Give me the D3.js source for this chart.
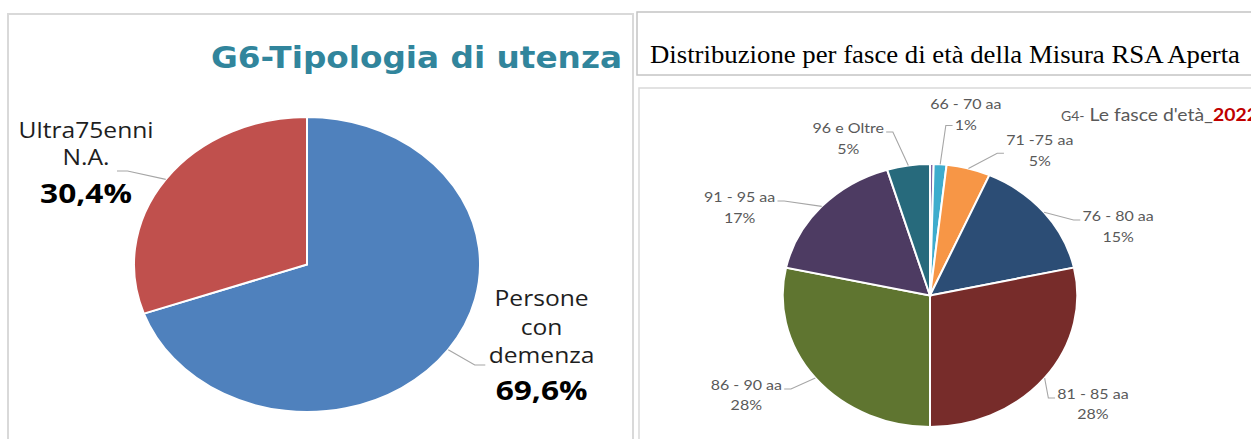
<!DOCTYPE html>
<html><head><meta charset="utf-8">
<script src="https://cdn.jsdelivr.net/npm/d3@7"></script>
<style>html,body{margin:0;padding:0;background:#fff;overflow:hidden}</style>
</head><body>
<svg id="c" width="1251" height="439"></svg>
<script>
// ---------- DATA ----------
const leftTitle = "G6-Tipologia di utenza";
const leftCategories = ["Persone con demenza", "Ultra75enni N.A."];
const leftLabelLines = [["Persone", "con", "demenza"], ["Ultra75enni", "N.A."]];
const leftValues = [69.6, 30.4];
const leftColors = ["#4f81bd", "#c0504d"];

const rightTitle = "Distribuzione per fasce di età della Misura RSA Aperta";
const innerTitle = "G4- Le fasce d'età_";
const innerYear = "2022";
const rightCategories = ["fino a 65 aa", "66 - 70 aa", "71 -75 aa", "76 - 80 aa", "81 - 85 aa", "86 - 90 aa", "91 - 95 aa", "96 e Oltre"];
const rightValues = [0.4, 1.4, 4.8, 15.0, 28.4, 28.4, 16.9, 4.7];
const rightShowLabel = [false, true, true, true, true, true, true, true];
const rightColors = ["#8064a2", "#3eaccd", "#f79646", "#2c4d75", "#772c2a", "#5f7530", "#4d3b62", "#276a7c"];

// ---------- LAYOUT ----------
const svg = d3.select("#c");
const fmtIt = v => v.toFixed(1).replace(".", ",") + "%";

// Left panel frame
svg.append("rect").attr("x", 8).attr("y", 14).attr("width", 625).attr("height", 460)
  .attr("fill", "none").attr("stroke", "#d9d9d9").attr("stroke-width", 2);
svg.append("text").attr("x", 622).attr("y", 68).attr("text-anchor", "end")
  .attr("font-family", "DejaVu Sans").attr("font-weight", "bold").attr("font-size", 31)
  .attr("fill", "#31859c").attr("textLength", 411).attr("lengthAdjust", "spacingAndGlyphs")
  .text(leftTitle);

const L = {cx: 307, cy: 264.5, r: 147.5, sx: 1.173};
const gL = svg.append("g").attr("transform", `translate(${L.cx},${L.cy}) scale(${L.sx},1)`);
const pie = d3.pie().sort(null).value(d => d);
const arcL = d3.arc().innerRadius(0).outerRadius(L.r);
const leftArcs = pie(leftValues);
gL.selectAll("path.slice").data(leftArcs).join("path").attr("class", "slice")
  .attr("d", arcL).attr("fill", (d, i) => leftColors[i])
  .attr("stroke", "#fff").attr("stroke-width", 2).attr("vector-effect", "non-scaling-stroke");

// label layout (offsets from pie centre, unscaled units)
const leftLabelLayout = [
  {x: 200, y: 42, lh: 28.3, pctGap: 37, elbow: [143, 100.5], end: [152, 100.5]},
  {x: -188.4, y: -126.5, lh: 27, pctGap: 38, elbow: [-153, -93.5], end: [-162, -93.5]}
];
leftArcs.forEach((a, i) => {
  const lay = leftLabelLayout[i];
  const mid = (a.startAngle + a.endAngle) / 2;
  const p0 = [L.r * Math.sin(mid), -L.r * Math.cos(mid)];
  gL.append("path").attr("d", d3.line()([p0, lay.elbow, lay.end]))
    .attr("fill", "none").attr("stroke", "#a6a6a6").attr("stroke-width", 1.2)
    .attr("vector-effect", "non-scaling-stroke");
  const lines = leftLabelLines[i];
  lines.forEach((t, j) => {
    gL.append("text").attr("x", lay.x).attr("y", lay.y + j * lay.lh).attr("text-anchor", "middle")
      .attr("font-family", "Open Sans").attr("font-size", 21).attr("fill", "#1e1e1e").text(t);
  });
  gL.append("text").attr("x", lay.x).attr("y", lay.y + (lines.length - 1) * lay.lh + lay.pctGap)
    .attr("text-anchor", "middle").attr("font-family", "Open Sans").attr("font-weight", "bold")
    .attr("font-size", 27).attr("fill", "#000").text(fmtIt(leftValues[i]));
});

// Right panel: title box
svg.append("rect").attr("x", 637).attr("y", 12).attr("width", 640).attr("height", 63)
  .attr("fill", "none").attr("stroke", "#c4c4c4").attr("stroke-width", 1.5);
svg.append("text").attr("x", 650).attr("y", 63)
  .attr("font-family", "Liberation Serif").attr("font-size", 25).attr("fill", "#000")
  .attr("textLength", 590).attr("lengthAdjust", "spacingAndGlyphs").text(rightTitle);

// inner chart box
svg.append("rect").attr("x", 639).attr("y", 88).attr("width", 640).attr("height", 400)
  .attr("fill", "none").attr("stroke", "#d9d9d9").attr("stroke-width", 1.5);

const R = {cx: 930, cy: 295.5, r: 131.5, sx: 1.12};
const gR = svg.append("g").attr("transform", `translate(${R.cx},${R.cy}) scale(${R.sx},1)`);

const it = svg.append("text").attr("transform", `translate(1061,121) scale(${R.sx},1)`)
  .attr("font-family", "Lato").attr("fill", "#595959").attr("font-size", 17.3);
it.append("tspan").attr("font-size", 12.5).text(innerTitle.slice(0, 3));
it.append("tspan").text(innerTitle.slice(3));
it.append("tspan").attr("font-weight", "bold").attr("fill", "#c00000").text(innerYear);

const arcR = d3.arc().innerRadius(0).outerRadius(R.r);
const rightArcs = pie(rightValues);
gR.selectAll("path.slice").data(rightArcs).join("path").attr("class", "slice")
  .attr("d", arcR).attr("fill", (d, i) => rightColors[i])
  .attr("stroke", "#fff").attr("stroke-width", 2).attr("vector-effect", "non-scaling-stroke");

// label layout: centre x, first-line baseline, attachment (unscaled units from centre)
const rightLabelLayout = [
  null,
  {x: 32, y: -186.5, side: "l", attach: 2},
  {x: 98, y: -150.5, side: "l", attach: 1.5},
  {x: 168, y: -74.5, side: "l", attach: 1},
  {x: 145.5, y: 103.5, side: "l", attach: 1},
  {x: -164, y: 94.5, side: "r", attach: 1},
  {x: -170, y: -93.5, side: "r", attach: 1},
  {x: -73, y: -162.5, side: "r", attach: 1}
];
const rlh = 20.5;
rightArcs.forEach((a, i) => {
  if (!rightShowLabel[i]) return;
  const lay = rightLabelLayout[i];
  const lines = [rightCategories[i], Math.round(rightValues[i]) + "%"];
  const tg = gR.append("g");
  const texts = lines.map((t, j) => tg.append("text").attr("x", lay.x).attr("y", lay.y + j * rlh)
    .attr("text-anchor", "middle").attr("font-family", "Lato").attr("font-size", 14.3)
    .attr("fill", "#595959").text(t));
  const widths = texts.map(t => t.node().getComputedTextLength());
  let w;
  if (lay.attach === 2) w = widths[1];
  else if (lay.attach === 1.5) w = Math.max(...widths);
  else w = widths[0];
  const ay = lay.attach === 2 ? lay.y + rlh - 4 : lay.attach === 1.5 ? lay.y + rlh / 2 - 2 : lay.y - 1;
  const ex = lay.side === "l" ? lay.x - w / 2 - 2 : lay.x + w / 2 + 2;
  const bx = lay.side === "l" ? ex - 6 : ex + 6;
  const mid = (a.startAngle + a.endAngle) / 2;
  const p0 = [R.r * Math.sin(mid), -R.r * Math.cos(mid)];
  gR.append("path").attr("d", d3.line()([p0, [bx, ay], [ex, ay]]))
    .attr("fill", "none").attr("stroke", "#a6a6a6").attr("stroke-width", 1.1)
    .attr("vector-effect", "non-scaling-stroke");
});
</script>
</body></html>
